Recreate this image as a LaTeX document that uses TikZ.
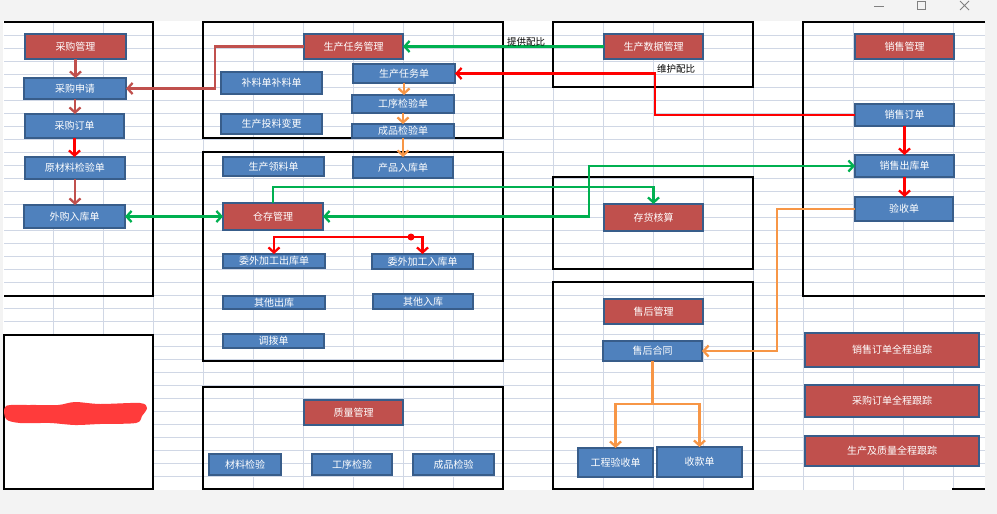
\documentclass[tikz,border=0pt]{standalone}
\usepackage{fontspec}
\newfontfamily\cjk{Noto Sans CJK SC}
\usetikzlibrary{arrows.meta}
\definecolor{nblue}{HTML}{4F81BD}
\definecolor{nborder}{HTML}{385D8A}
\definecolor{nred}{HTML}{C0504D}
\definecolor{gridline}{HTML}{D0D7E5}
\definecolor{chrome}{HTML}{F3F3F3}
\definecolor{ogreen}{HTML}{00B050}
\definecolor{oorange}{HTML}{F79646}
\definecolor{drkred}{HTML}{C0504D}
\definecolor{blobred}{HTML}{FF3B3B}
\tikzset{
  basebox/.style={draw=nborder, line width=1.8pt, text=white,
    font=\cjk\fontsize{10}{12}\selectfont, inner sep=0pt, outer sep=0pt},
  bbox/.style={basebox, fill=nblue},
  rbox/.style={basebox, fill=nred},
  frame/.style={draw=black, line width=2.8pt},
  tipped/.style={line width=2.3pt, -{Straight Barb[length=5pt,width=11pt]}},
  twotip/.style={line width=2.3pt, {Straight Barb[length=5pt,width=11pt]}-{Straight Barb[length=5pt,width=11pt]}},
  darkarrow/.style={tipped, draw=drkred},
  redarrow/.style={tipped, draw=red},
  greenarrow/.style={tipped, draw=ogreen},
  orangearrow/.style={tipped, draw=oorange},
  lbl/.style={text=black, font=\cjk\fontsize{9.5}{11}\selectfont, inner sep=0pt}
}
\newcommand{\boxnode}[7]{%
  \node[#1, minimum width={(#5-#3)*1pt}, minimum height={(#6-#4)*1pt}] (#2) at ({(#3+#5)/2},{(#4+#6)/2}) {#7};}
\begin{document}
\begin{tikzpicture}[x=1pt,y=-1pt]
\useasboundingbox (0,0) rectangle (997,514);
\fill[white] (0,0) rectangle (997,514);
% grid
\foreach \i in {0,...,34} \draw[gridline, line width=1pt] (4,{35.7+12.97*\i}) -- (985,{35.7+12.97*\i});
\foreach \x in {53,103,...,953} \draw[gridline, line width=1pt] (\x,22) -- (\x,490);
% chrome
\fill[chrome] (0,0) rectangle (997,21);
\fill[chrome] (0,490) rectangle (997,514);
\fill[chrome] (985,21) rectangle (997,490);
\fill[chrome] (0,21) rectangle (3,490);
\draw[gray, line width=0.8pt] (874,6) -- (884,6);
\draw[gray, line width=0.8pt] (917,1.5) rectangle (925,9.5);
\draw[gray, line width=0.8pt] (960,1) -- (969,10) (960,10) -- (969,1);
% frames
\draw[frame] (4,22) -- (153,22) -- (153,296) -- (4,296);
\draw[frame] (203,22) rectangle (503,138);
\draw[frame] (553,22) rectangle (753,87);
\draw[frame] (985,22) -- (803,22) -- (803,296) -- (985,296);
\draw[frame] (203,152) rectangle (503,361);
\draw[frame] (553,177) rectangle (753,269);
\draw[frame] (553,282) rectangle (753,489);
\draw[frame] (203,387) rectangle (503,489);
\filldraw[frame, fill=white] (4,335) rectangle (153,489);
\draw[frame] (952,489) -- (985,489);
% red scribble
\fill[blobred] plot[smooth cycle] coordinates {(6,406) (30,405) (58,405) (75,402) (100,404) (140,403) (147,408) (142,416) (136,423) (100,424) (75,425) (50,423) (20,423) (6,419)};
% nodes: purchasing
\boxnode{rbox}{cg}{25}{34}{126}{59}{采购管理}
\boxnode{bbox}{cs}{24}{78}{126}{99}{采购申请}
\boxnode{bbox}{cd}{25}{114}{124}{138}{采购订单}
\boxnode{bbox}{yc}{25}{157}{125}{179}{原材料检验单}
\boxnode{bbox}{wr}{24}{205}{125}{228}{外购入库单}
% production
\boxnode{rbox}{scm}{304}{34}{403}{59}{生产任务管理}
\boxnode{bbox}{blp}{221}{72}{322}{94}{补料单补料单}
\boxnode{bbox}{tlbg}{221}{114}{322}{134}{生产投料变更}
\boxnode{bbox}{srd}{353}{64}{455}{83}{生产任务单}
\boxnode{bbox}{gxj}{352}{95}{454}{113}{工序检验单}
\boxnode{bbox}{cpj}{352}{124}{454}{138}{成品检验单}
\boxnode{rbox}{sjm}{604}{34}{703}{59}{生产数据管理}
% warehouse
\boxnode{bbox}{llp}{223}{157}{324}{176}{生产领料单}
\boxnode{bbox}{cprk}{353}{157}{453}{178}{产品入库单}
\boxnode{rbox}{ccg}{223}{203}{323}{230}{仓存管理}
\boxnode{bbox}{wwc}{223}{254}{325}{268}{委外加工出库单}
\boxnode{bbox}{wwr}{372}{254}{473}{269}{委外加工入库单}
\boxnode{bbox}{qtc}{223}{296}{325}{309}{其他出库}
\boxnode{bbox}{qtr}{373}{294}{473}{309}{其他入库}
\boxnode{bbox}{dbd}{223}{334}{324}{348}{调拨单}
\boxnode{rbox}{chs}{604}{204}{703}{231}{存货核算}
% sales
\boxnode{rbox}{xsg}{855}{34}{954}{59}{销售管理}
\boxnode{bbox}{xsd}{855}{104}{954}{126}{销售订单}
\boxnode{bbox}{xsck}{855}{155}{954}{177}{销售出库单}
\boxnode{bbox}{ysd}{855}{197}{953}{221}{验收单}
% after sales
\boxnode{rbox}{shg}{604}{299}{703}{324}{售后管理}
\boxnode{bbox}{shht}{603}{341}{702}{361}{售后合同}
\boxnode{bbox}{gcys}{578}{448}{653}{477}{工程验收单}
\boxnode{bbox}{skd}{657}{447}{742}{477}{收款单}
% tracking
\boxnode{rbox}{zz1}{805}{333}{979}{367}{销售订单全程追踪}
\boxnode{rbox}{zz2}{805}{385}{979}{417}{采购订单全程跟踪}
\boxnode{rbox}{zz3}{805}{436}{979}{466}{生产及质量全程跟踪}
% quality
\boxnode{rbox}{zlg}{304}{400}{403}{425}{质量管理}
\boxnode{bbox}{clj}{209}{454}{281}{475}{材料检验}
\boxnode{bbox}{gxjy}{312}{454}{392}{475}{工序检验}
\boxnode{bbox}{cpjy}{413}{454}{494}{475}{成品检验}
% connectors: purchasing
\draw[darkarrow] (cg.south) -- (cg.south |- cs.north);
\draw[darkarrow] (cs.south) -- (cs.south |- cd.north);
\draw[redarrow] (cd.south) -- (cd.south |- yc.north);
\draw[darkarrow] (yc.south) -- (yc.south |- wr.north);
\draw[darkarrow] (scm.west) -- (215,46.5) |- (cs.east);
% production data
\draw[greenarrow] (sjm.west) -- (scm.east);
\node[lbl] (tgpb) at (526,41.5) {提供配比};
\node[lbl] (whpb) at (676,68.5) {维护配比};
\draw[redarrow] (xsd.west) -- (655,115) |- (srd.east);
\draw[orangearrow] (srd.south) -- (srd.south |- gxj.north);
\draw[orangearrow] (gxj.south) -- (gxj.south |- cpj.north);
\draw[orangearrow] (cpj.south) -- (cpj.south |- cprk.north);
% warehouse
\draw[twotip, draw=ogreen] (wr.east) -- (ccg.west);
\draw[greenarrow] (ccg.north) -- ++(0,-16) -| (chs.north);
\draw[twotip, draw=ogreen] (ccg.east) -- (589,216.5) -- (589,166) -- (xsck.west);
\coordinate (jn) at (411,237);
\draw[redarrow] (jn) -| (wwc.north);
\draw[redarrow] (jn) -| (wwr.north);
\fill[red] (jn) circle (3.5);
% sales
\draw[redarrow] (xsd.south) -- (xsd.south |- xsck.north);
\draw[redarrow] (xsck.south) -- (xsck.south |- ysd.north);
\draw[orangearrow] (ysd.west) -- (777,209) |- (shht.east);
% after sales
\coordinate (sp) at (652.5,404);
\draw[line width=2.3pt, draw=oorange] (shht.south) -- (sp);
\draw[orangearrow] (sp) -| (gcys.north);
\draw[orangearrow] (sp) -| (skd.north);
\end{tikzpicture}
\end{document}
